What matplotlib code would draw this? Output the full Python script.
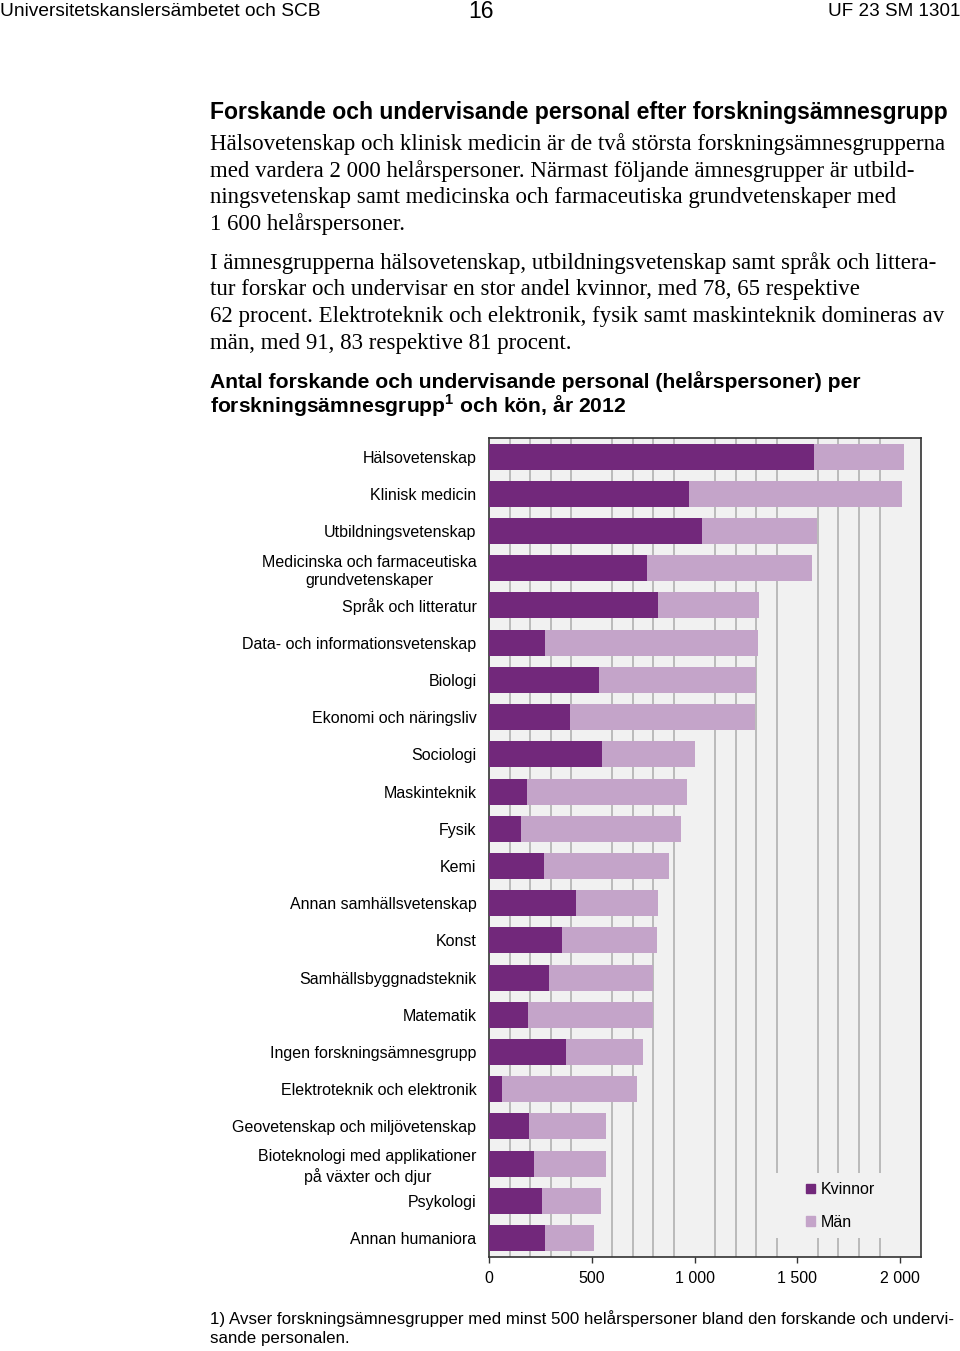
import matplotlib
matplotlib.use('Agg')
import matplotlib.pyplot as plt
from matplotlib.patches import Patch, Rectangle
from matplotlib.ticker import FuncFormatter

# data (helårspersoner)
categories = [
    'Hälsovetenskap', 'Klinisk medicin', 'Utbildningsvetenskap',
    'Medicinska och farmaceutiska\ngrundvetenskaper', 'Språk och litteratur',
    'Data- och informationsvetenskap', 'Biologi', 'Ekonomi och näringsliv',
    'Sociologi', 'Maskinteknik', 'Fysik', 'Kemi', 'Annan samhällsvetenskap',
    'Konst', 'Samhällsbyggnadsteknik', 'Matematik', 'Ingen forskningsämnesgrupp',
    'Elektroteknik och elektronik', 'Geovetenskap och miljövetenskap',
    'Bioteknologi med applikationer\npå växter och djur', 'Psykologi',
    'Annan humaniora',
]
kvinnor = [1580, 975, 1037, 767, 823, 271, 533, 392, 548, 183, 154, 266,
           422, 354, 290, 188, 373, 62, 197, 221, 256, 271]
man = [438, 1033, 559, 805, 489, 1036, 764, 900, 454, 779, 779, 608,
       399, 462, 506, 608, 375, 660, 371, 347, 291, 240]
xticks = [0, 500, 1000, 1500, 2000]

DARK = '#72287B'
LIGHT = '#C4A4C9'
BG = '#F1F1F1'
SANS = 'Liberation Sans'
SERIF = 'Liberation Serif'

fig = plt.figure(figsize=(9.6, 13.51), dpi=100, facecolor='white')

# page header
fig.text(0.0, 1 - 12 / 1351, 'Universitetskanslersämbetet och SCB', family=SANS,
         fontsize=13.8, ha='left', va='center')
fig.text(481 / 960, 1 - 11 / 1351, '16', family=SANS, fontsize=16.5, ha='center', va='center')
fig.text(1.0, 1 - 12 / 1351, 'UF 23 SM 1301', family=SANS, fontsize=13.6, ha='right', va='center')

# section heading and body text
fig.text(210 / 960, 1 - 113 / 1351,
         'Forskande och undervisande personal efter forskningsämnesgrupp',
         family=SANS, fontsize=16.6, weight='bold', ha='left', va='center')
body1 = ['Hälsovetenskap och klinisk medicin är de två största forskningsämnesgrupperna',
         'med vardera 2 000 helårspersoner. Närmast följande ämnesgrupper är utbild-',
         'ningsvetenskap samt medicinska och farmaceutiska grundvetenskaper med',
         '1 600 helårspersoner.']
body2 = ['I ämnesgrupperna hälsovetenskap, utbildningsvetenskap samt språk och littera-',
         'tur forskar och undervisar en stor andel kvinnor, med 78, 65 respektive',
         '62 procent. Elektroteknik och elektronik, fysik samt maskinteknik domineras av',
         'män, med 91, 83 respektive 81 procent.']
for i, line in enumerate(body1):
    fig.text(210 / 960, 1 - (144 + i * 26.7) / 1351, line, family=SERIF,
             fontsize=16.5, ha='left', va='center')
for i, line in enumerate(body2):
    fig.text(210 / 960, 1 - (263 + i * 26.7) / 1351, line, family=SERIF,
             fontsize=16.5, ha='left', va='center')

# chart title
fig.text(210 / 960, 1 - 382 / 1351,
         'Antal forskande och undervisande personal (helårspersoner) per',
         family=SANS, fontsize=15.2, weight='bold', ha='left', va='center')
fig.text(210 / 960, 1 - 406 / 1351,
         r'forskningsämnesgrupp$^{\mathregular{1}}$ och kön, år 2012',
         family=SANS, fontsize=15.2, weight='bold', ha='left', va='center')

# chart
ax = fig.add_axes([489 / 960, (1351 - 1256.7) / 1351, 431.7 / 960, 818.7 / 1351])
ax.set_facecolor(BG)
y = list(range(len(categories)))
ax.barh(y, kvinnor, height=0.7, color=DARK, zorder=3, label='Kvinnor')
ax.barh(y, man, left=kvinnor, height=0.7, color=LIGHT, zorder=3, label='Män')

ax.set_xlim(0, 2100)
ax.set_ylim(len(categories) - 0.5, -0.5)
ax.set_xticks(xticks)
ax.set_xticks(range(0, 2100, 100), minor=True)
ax.xaxis.grid(True, which='minor', color='#ABABAB', linewidth=1.1, zorder=0)
ax.set_axisbelow(True)
ax.xaxis.set_major_formatter(FuncFormatter(lambda v, p: f'{v:,.0f}'.replace(',', ' ')))
ax.tick_params(axis='x', which='major', length=4, width=1, color='#333333',
               labelsize=11.5, pad=6)
ax.tick_params(axis='x', which='minor', length=0)
ax.set_yticks(y)
ax.set_yticklabels(categories, fontsize=11.5, family=SANS, ha='right',
                   multialignment='center', linespacing=1.3)
ax.tick_params(axis='y', length=0, pad=9)
for lab in ax.get_xticklabels():
    lab.set_family(SANS)
for s in ax.spines.values():
    s.set_color('#333333')
    s.set_linewidth(1.2)

# plain patch behind the legend that hides the grid lines there
ax.add_patch(Rectangle((0.6625, 0.0228), 0.3375, 0.0794, transform=ax.transAxes,
                       facecolor=BG, edgecolor='none', zorder=1))
leg = ax.legend(handles=[Patch(color=DARK, label='Kvinnor'), Patch(color=LIGHT, label='Män')],
                loc='lower left', bbox_to_anchor=(0.734, 0.033), frameon=False,
                prop={'family': SANS, 'size': 11.5}, handlelength=0.55,
                handleheight=0.55, handletextpad=0.4, labelspacing=1.1,
                borderpad=0, borderaxespad=0)
leg.set_zorder(5)

# footnote
fig.text(210 / 960, 1 - 1319 / 1351,
         '1) Avser forskningsämnesgrupper med minst 500 helårspersoner bland den forskande och undervi-',
         family=SANS, fontsize=12.2, ha='left', va='center')
fig.text(210 / 960, 1 - 1338 / 1351, 'sande personalen.',
         family=SANS, fontsize=12.2, ha='left', va='center')

fig.savefig('out.png', dpi=100, facecolor='white')
